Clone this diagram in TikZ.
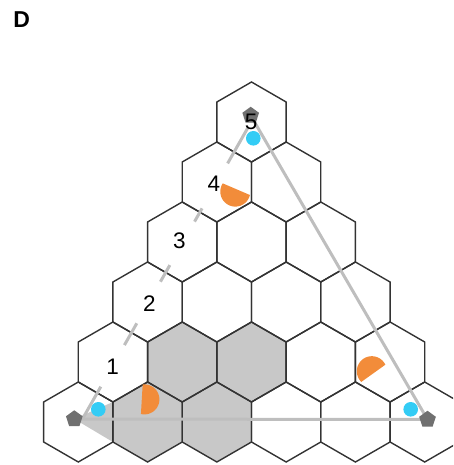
\documentclass[tikz,border=0pt]{standalone}
\usepackage{fontspec}
\setmainfont{Liberation Sans}
\usetikzlibrary{shapes.geometric,calc}
\definecolor{hexline}{HTML}{333333}
\definecolor{shadeg}{HTML}{C8C8C8}
\definecolor{pathg}{HTML}{BEBEBE}
\definecolor{pentg}{HTML}{707070}
\definecolor{dotblue}{HTML}{33CCF5}
\definecolor{wedgeor}{HTML}{F28C3A}
\begin{document}
\begin{tikzpicture}[x=1pt,y=-1pt,
  hexcell/.style={draw=hexline,line width=1.4pt,line join=miter},
  pathline/.style={draw=pathg,line width=3pt},
  pent/.style={regular polygon,regular polygon sides=5,fill=pentg,minimum size=17.5pt,inner sep=0pt},
  bdot/.style={circle,fill=dotblue,minimum size=14.6pt,inner sep=0pt},
  wedgeshape/.style={fill=wedgeor},
  numlab/.style={font=\fontsize{22.5}{27}\selectfont,inner sep=0pt},
  paneltitle/.style={font=\fontsize{23}{28}\selectfont\bfseries,inner sep=0pt}]
\useasboundingbox (0,0) rectangle (453,465);
% key positions
\coordinate (cL) at (74.3,419);
\coordinate (cT) at (250.7,115.5);
\coordinate (cR) at (427.5,419.5);
\coordinate (dA) at (83,418);
\coordinate (dB) at (250,124);
\begin{scope}
\clip (0,0) rectangle (453,465);
% shaded cells
\foreach \r/\k in {4/1,4/2,5/1,5/2}{
  \pgfmathsetmacro\cx{251.5+(\k-\r/2)*69.282}
  \pgfmathsetmacro\cy{122+\r*60}
  \fill[shadeg] (\cx,\cy) +(30:40) -- +(90:40) -- +(150:40) -- +(210:40) -- +(270:40) -- +(330:40) -- cycle;
}
% field of view wedge
\fill[shadeg] (cL) -- (112.9,402) -- (112.9,442) -- cycle;
% hex grid
\foreach \r in {0,...,5}{
  \foreach \k in {0,...,\r}{
    \pgfmathsetmacro\cx{251.5+(\k-\r/2)*69.282}
    \pgfmathsetmacro\cy{122+\r*60}
    \draw[hexcell] (\cx,\cy) +(30:40) -- +(90:40) -- +(150:40) -- +(210:40) -- +(270:40) -- +(330:40) -- cycle;
  }
}
\end{scope}
% triangle of paths
\draw[pathline] (cL) -- (cR);
\draw[pathline] (cT) -- (cR);
\foreach \a/\b in {0/0.1065,0.248/0.322,0.4636/0.52,0.668/0.713,0.866/0.985}
  \draw[pathline] ($(dA)!\a!(dB)$) -- ($(dA)!\b!(dB)$);
% orange half discs
\fill[wedgeshape] plot[domain=-96.6:103.4,samples=40] ({144.4+15*cos(\x)},{399.4+15*sin(\x)}) -- cycle;
\fill[wedgeshape] plot[domain=13.2:213.2,samples=40] ({235.3+15*cos(\x)},{191.6+15*sin(\x)}) -- cycle;
\fill[wedgeshape] plot[domain=134.4:334.4,samples=40] ({371.8+15*cos(\x)},{371.2+15*sin(\x)}) -- cycle;
% blue dots
\node[bdot] (b1) at (98.3,409.3) {};
\node[bdot] (b2) at (253.3,138.3) {};
\node[bdot] (b3) at (410.7,409.3) {};
% pentagons
\node[pent] (pL) at (cL) {};
\node[pent] (pT) at (cT) {};
\node[pent] (pR) at (cR) {};
% labels
\node[numlab] (n1) at (112.7,366.7) {1};
\node[numlab] (n2) at (149.3,303.3) {2};
\node[numlab] (n3) at (179.3,240.7) {3};
\node[numlab] (n4) at (214,183.3) {4};
\node[numlab] (n5) at (251.2,121.7) {5};
\node[paneltitle] (title) at (21.7,20) {D};
\end{tikzpicture}
\end{document}
